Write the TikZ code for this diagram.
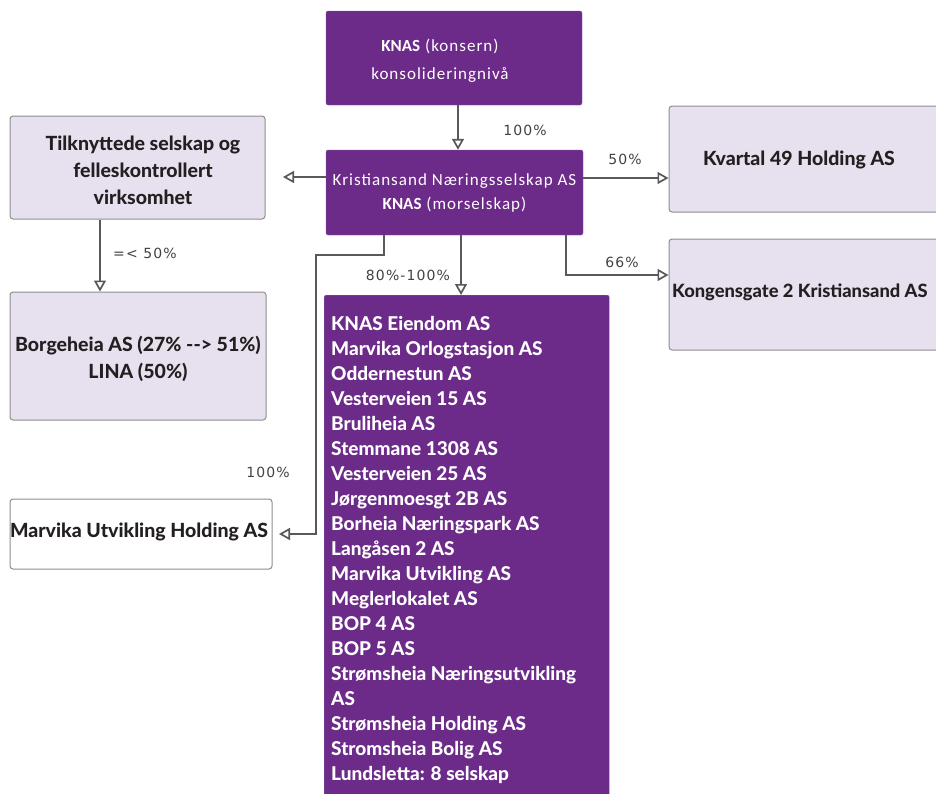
\documentclass[tikz,border=0pt]{standalone}
\usepackage{fontspec}
\setmainfont{Carlito}[LetterSpace=6]
\newfontfamily\kb{Carlito}
\newfontfamily\gill{Lato}[BoldFont={Lato Heavy}]
\newfontfamily\lblfont{DejaVu Sans}[LetterSpace=8]
\usetikzlibrary{arrows.meta}
\definecolor{kpurple}{HTML}{6C2A89}
\definecolor{klav}{HTML}{E7E1EF}
\definecolor{kborder}{HTML}{8E8E8E}
\definecolor{kline}{HTML}{595959}
\definecolor{ktext}{HTML}{231F20}
\newcommand{\knasb}{{\kb\bfseries KNAS}}
\tikzset{
  purplebox/.style={fill=kpurple, draw=kpurple!80!white, rounded corners=2pt, text=white, align=center, inner sep=0pt},
  lavbox/.style={fill=klav, draw=kborder, line width=1pt, rounded corners=3pt, inner sep=0pt},
  whitebox/.style={fill=white, draw=kborder, line width=1pt, rounded corners=3pt, inner sep=0pt},
  boxtext/.style={text=ktext, align=center, font=\gill\bfseries\fontsize{19.5}{27}\selectfont, inner sep=0pt},
  pct/.style={text=ktext!85!white, font=\lblfont\fontsize{14}{16}\selectfont, inner sep=0pt},
  arr/.style={draw=kline, line width=1.2pt, -{Triangle[open, length=11pt, width=12pt, line width=1.7pt]}},
}
\begin{document}
\begin{tikzpicture}[x=1pt,y=-1pt]
\useasboundingbox (0,0) rectangle (936,793);
% boxes
\node[purplebox, minimum width=256, minimum height=94] (top) at (454,58) {};
\node[text=white, align=center, inner sep=0pt, font=\fontsize{17}{28}\selectfont] (topt) at (440,61) {\knasb{} (konsern)\\konsolideringnivå};
\node[purplebox, minimum width=257, minimum height=85, font=\fontsize{17}{24}\selectfont] (mid) at (454.5,192.5) {Kristiansand Næringsselskap AS\\\knasb{} (morselskap)};
\node[lavbox, minimum width=255, minimum height=103] (tilk) at (137.5,167.5) {};
\node[boxtext] (tilkt) at (143,170) {Tilknyttede selskap og\\felleskontrollert\\virksomhet};
\node[lavbox, minimum width=256, minimum height=128] (borg) at (138,356) {};
\node[boxtext] (borgt) at (138,359) {Borgeheia AS (27\% --> 51\%)\\LINA (50\%)};
\node[lavbox, minimum width=280, minimum height=106] (kv) at (809,159) {};
\node[boxtext] (kvt) at (799,160) {Kvartal 49 Holding AS};
\node[lavbox, minimum width=280, minimum height=111] (kong) at (809,294.5) {};
\node[boxtext, anchor=west, font=\gill\bfseries\fontsize{18.3}{27}\selectfont] (kongt) at (672,292) {Kongensgate 2 Kristiansand AS};
\node[whitebox, minimum width=262, minimum height=70] (marv) at (141,534) {};
\node[boxtext] (marvt) at (139,532) {Marvika Utvikling Holding AS};
\node[purplebox, minimum width=285, minimum height=510, anchor=north west] (list) at (324,295) {};
\node[anchor=north west, align=left, text=white, inner sep=0pt, font=\gill\bfseries\fontsize{19}{25}\selectfont] (listt) at (331,316) {KNAS Eiendom AS\\Marvika Orlogstasjon AS\\Oddernestun AS\\Vesterveien 15 AS\\Bruliheia AS\\Stemmane 1308 AS\\Vesterveien 25 AS\\Jørgenmoesgt 2B AS\\Borheia Næringspark AS\\Langåsen 2 AS\\Marvika Utvikling AS\\Meglerlokalet AS\\BOP 4 AS\\BOP 5 AS\\Strømsheia Næringsutvikling\\AS\\Strømsheia Holding AS\\Stromsheia Bolig AS\\Lundsletta: 8 selskap};
% free ends
\coordinate (tilkend) at (283,177);
\coordinate (marvend) at (279,534);
% connectors
\draw[arr] (top.south -| 458,0) -- (mid.north -| 458,0);
\draw[arr] (mid.west |- 0,177) -- (tilkend);
\draw[arr] (tilk.south -| 100,0) -- (borg.north -| 100,0);
\draw[arr] (mid.east |- 0,178) -- (kv.west |- 0,178);
\draw[arr] (mid.south -| 566,0) |- (kong.west |- 0,275);
\draw[arr] (mid.south -| 461,0) -- (list.north -| 461,0);
\draw[arr] (mid.south -| 384,0) -- (384,255) -- (316,255) |- (marvend);
% labels
\node[pct] (p1) at (525,130) {100\%};
\node[pct] (p2) at (625,159) {50\%};
\node[pct] (p3) at (622,262) {66\%};
\node[pct] (p4) at (408,275) {80\%-100\%};
\node[pct] (p5) at (145,253) {=< 50\%};
\node[pct] (p6) at (268,472) {100\%};
\end{tikzpicture}
\end{document}
